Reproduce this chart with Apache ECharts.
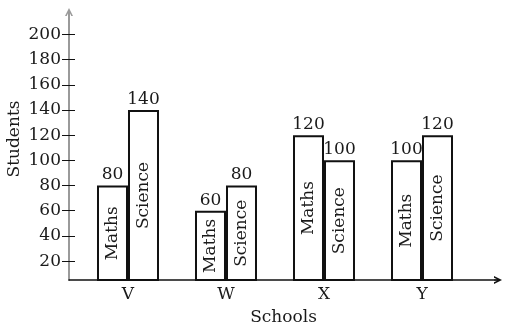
<!DOCTYPE html>
<html>
<head>
<meta charset="utf-8">
<script src="https://cdn.jsdelivr.net/npm/echarts@6/dist/echarts.min.js"></script>
<style>html,body{margin:0;padding:0;background:#fff}#c{width:507px;height:330px}</style>
</head>
<body>
<div id="c"></div>
<script>
const schools = ['V', 'W', 'X', 'Y'];
const maths = [80, 60, 120, 100];
const science = [140, 80, 100, 120];
const yTicks = [20, 40, 60, 80, 100, 120, 140, 160, 180, 200];
const seriesNames = ['Maths', 'Science'];

const FONT = 'DejaVu Serif';
const FS = 17;
const TXT = '#1a1a1a';
const chevron = 'path://M0,10 L5,0 L10,10 L7.9,10 L5,4.2 L2.1,10 Z M4.3,2 L5.7,2 L5.7,10 L4.3,10 Z';

const toPts = arr => arr.map((v, i) => [i, v]);

const yMin = 5, yMax = 217.8;
const xMin = -0.602, xMax = 3.7755;

const chart = echarts.init(document.getElementById('c'), null, {renderer: 'canvas'});

const barBase = {
  type: 'bar',
  barWidth: 31,
  barGap: '0%',
  yAxisIndex: 0
};

chart.setOption({
  animation: false,
  backgroundColor: '#fff',
  grid: {left: 69, right: 9, top: 12, bottom: 50, containLabel: false, outerBoundsMode: 'none'},
  xAxis: [{
    type: 'value', min: xMin, max: xMax,
    name: 'Schools', nameLocation: 'middle', nameGap: 29, nameMoveOverlap: false,
    nameTextStyle: {fontFamily: FONT, fontSize: FS, color: TXT},
    axisLine: {show: true, onZero: false, lineStyle: {color: '#111', width: 1.5}, symbol: ['none', chevron], symbolSize: [11, 8]},
    axisTick: {show: false},
    splitLine: {show: false},
    axisLabel: {customValues: [0, 1, 2, 3], formatter: v => schools[Math.round(v)], fontFamily: FONT, fontSize: FS, color: TXT, margin: 6}
  }, {
    type: 'value', min: xMin, max: xMax, show: false, axisLine: {onZero: false}
  }],
  yAxis: [{
    type: 'value', min: yMin, max: yMax,
    name: 'Students', nameLocation: 'middle', nameRotate: 90, nameGap: 46, nameMoveOverlap: false,
    nameTextStyle: {fontFamily: FONT, fontSize: FS, color: TXT, padding: [0, 0, 0, 14]},
    axisLine: {show: true, onZero: false, lineStyle: {color: '#9a9a9a', width: 2}, symbol: ['none', chevron], symbolSize: [11, 8]},
    axisTick: {show: true, customValues: yTicks, length: 7, lineStyle: {color: '#111', width: 1}},
    splitLine: {show: false},
    axisLabel: {customValues: yTicks, fontFamily: FONT, fontSize: FS, color: TXT, margin: 8}
  }, {
    type: 'value', min: yMin, max: yMax, position: 'left', offset: 0,
    axisLine: {show: false, onZero: false},
    axisTick: {show: true, inside: true, customValues: yTicks, length: 6, lineStyle: {color: '#111', width: 1}},
    axisLabel: {show: false},
    splitLine: {show: false}
  }],
  series: [
    Object.assign({}, barBase, {
      name: seriesNames[0], xAxisIndex: 0, data: toPts(maths),
      itemStyle: {color: '#fff', borderColor: '#111', borderWidth: 2},
      label: {show: true, position: 'inside', rotate: 90, formatter: '{a}', fontFamily: FONT, fontSize: FS, color: TXT}
    }),
    Object.assign({}, barBase, {
      name: seriesNames[1], xAxisIndex: 0, data: toPts(science),
      itemStyle: {color: '#fff', borderColor: '#111', borderWidth: 2},
      label: {show: true, position: 'inside', rotate: 90, formatter: '{a}', fontFamily: FONT, fontSize: FS, color: TXT}
    }),
    Object.assign({}, barBase, {
      name: seriesNames[0] + ' value', xAxisIndex: 1, data: toPts(maths), silent: true,
      itemStyle: {color: 'rgba(0,0,0,0)', borderWidth: 0},
      label: {show: true, position: 'top', distance: 2, formatter: p => p.value[1], fontFamily: FONT, fontSize: FS, color: TXT}
    }),
    Object.assign({}, barBase, {
      name: seriesNames[1] + ' value', xAxisIndex: 1, data: toPts(science), silent: true,
      itemStyle: {color: 'rgba(0,0,0,0)', borderWidth: 0},
      label: {show: true, position: 'top', distance: 2, formatter: p => p.value[1], fontFamily: FONT, fontSize: FS, color: TXT}
    })
  ]
});
</script>
</body>
</html>
